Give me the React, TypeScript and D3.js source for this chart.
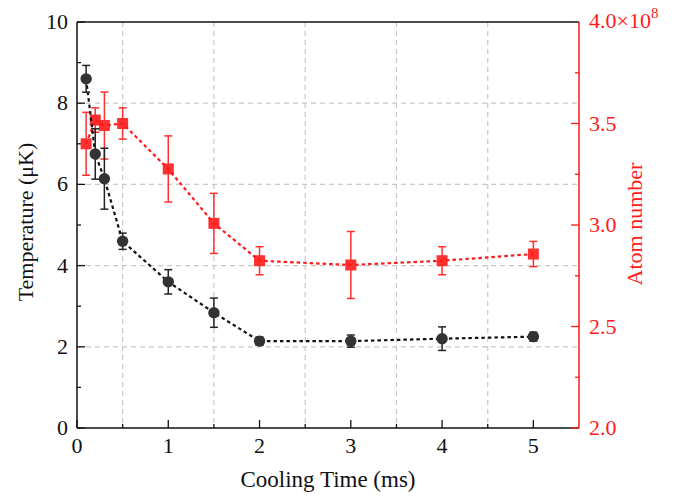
import * as d3 from "d3";

const times = [0.1, 0.2, 0.3, 0.5, 1, 1.5, 2, 3, 4, 5];
const temperature = [8.6, 6.75, 6.14, 4.6, 3.6, 2.84, 2.14, 2.14, 2.2, 2.25];
const temperatureErr = [0.33, 0.62, 0.75, 0.2, 0.3, 0.36, 0.1, 0.15, 0.29, 0.11];
const atomNumber = [3.4, 3.517, 3.49, 3.5, 3.276, 3.008, 2.824, 2.803, 2.824, 2.857];
const atomErr = [0.155, 0.06, 0.165, 0.077, 0.163, 0.148, 0.069, 0.165, 0.069, 0.062];

const xTicks = [0, 1, 2, 3, 4, 5];
const xMinor = [0.5, 1.5, 2.5, 3.5, 4.5];
const leftTicks = [0, 2, 4, 6, 8, 10];
const rightTicks = [2.0, 2.5, 3.0, 3.5];

const W = 679;
const H = 500;
const m = { left: 77, right: 579, top: 22, bottom: 428 };
const font = "'Liberation Serif', 'Times New Roman', serif";
const RED = "#ff1a1a";
const FS = 22;

const App = () => {
  const x = d3.scaleLinear().domain([0, 5.5]).range([m.left, m.right]);
  const yL = d3.scaleLinear().domain([0, 10]).range([m.bottom, m.top]);
  const yR = d3.scaleLinear().domain([2, 4]).range([m.bottom, m.top]);

  const tLine = d3
    .line<number>()
    .x((d, i) => x(times[i]))
    .y((d) => yL(d));
  const aLine = d3
    .line<number>()
    .x((d, i) => x(times[i]))
    .y((d) => yR(d));

  return (
    <svg width={W} height={H} style={{ position: "absolute", left: 0, top: 0, background: "white" }}>
      {/* grid */}
      <g stroke="#c8c8c8" strokeWidth={1.2} strokeDasharray="5,4">
        {xMinor.map((t) => (
          <line key={"gx" + t} x1={x(t)} x2={x(t)} y1={m.top} y2={m.bottom} />
        ))}
        {leftTicks.slice(1, -1).map((t) => (
          <line key={"gy" + t} x1={m.left} x2={m.right} y1={yL(t)} y2={yL(t)} />
        ))}
      </g>

      {/* frame */}
      <line x1={m.left} x2={m.right} y1={m.top} y2={m.top} stroke="#111" strokeWidth={1.5} />
      <line x1={m.left} x2={m.right} y1={m.bottom} y2={m.bottom} stroke="#111" strokeWidth={1.5} />
      <line x1={m.left} x2={m.left} y1={m.top} y2={m.bottom} stroke="#111" strokeWidth={1.5} />
      <line x1={m.right} x2={m.right} y1={m.top} y2={m.bottom} stroke={RED} strokeWidth={1.5} />

      {/* x ticks */}
      {xTicks.map((t) => (
        <g key={"xt" + t}>
          <line x1={x(t)} x2={x(t)} y1={m.bottom} y2={m.bottom - 8} stroke="#111" strokeWidth={1.3} />
          <text x={x(t)} y={m.bottom + 25} textAnchor="middle" fontSize={FS} fontFamily={font} fill="#111">
            {t}
          </text>
        </g>
      ))}
      {xMinor.map((t) => (
        <line key={"xm" + t} x1={x(t)} x2={x(t)} y1={m.bottom} y2={m.bottom - 4} stroke="#111" strokeWidth={1.3} />
      ))}

      {/* left ticks */}
      {leftTicks.map((t) => (
        <g key={"lt" + t}>
          <line x1={m.left} x2={m.left + 8} y1={yL(t)} y2={yL(t)} stroke="#111" strokeWidth={1.3} />
          <text x={m.left - 9} y={yL(t) + 7} textAnchor="end" fontSize={FS} fontFamily={font} fill="#111">
            {t}
          </text>
        </g>
      ))}
      {d3.range(1, 10, 2).map((t) => (
        <line key={"lm" + t} x1={m.left} x2={m.left + 4} y1={yL(t)} y2={yL(t)} stroke="#111" strokeWidth={1.3} />
      ))}

      {/* right ticks */}
      {rightTicks.map((t) => (
        <g key={"rt" + t}>
          <line x1={m.right} x2={m.right - 8} y1={yR(t)} y2={yR(t)} stroke={RED} strokeWidth={1.3} />
          <text x={m.right + 10} y={yR(t) + 7} fontSize={FS} fontFamily={font} fill={RED}>
            {t.toFixed(1)}
          </text>
        </g>
      ))}
      {d3.range(2.25, 4, 0.5).map((t) => (
        <line key={"rm" + t} x1={m.right} x2={m.right - 4} y1={yR(t)} y2={yR(t)} stroke={RED} strokeWidth={1.3} />
      ))}
      <text x={m.right + 10} y={yR(4) + 6} fontSize={FS} fontFamily={font} fill={RED}>
        4.0×10
        <tspan dy={-10} fontSize={15}>8</tspan>
      </text>

      {/* axis titles */}
      <text
        transform={`translate(33,222) rotate(-90)`}
        textAnchor="middle"
        fontSize={FS}
        fontFamily={font}
        fill="#111"
      >
        Temperature (μK)
      </text>
      <text
        transform={`translate(642,224) rotate(-90)`}
        textAnchor="middle"
        fontSize={FS}
        fontFamily={font}
        fill={RED}
      >
        Atom number
      </text>
      <text x={(m.left + m.right) / 2} y={487} textAnchor="middle" fontSize={23} fontFamily={font} fill="#111">
        Cooling Time (ms)
      </text>

      {/* atom number series */}
      <path d={aLine(atomNumber) ?? ""} fill="none" stroke={RED} strokeWidth={2.2} strokeDasharray="3.5,3" />
      {atomNumber.map((v, i) => {
        const cx = x(times[i]);
        const y1 = yR(v + atomErr[i]);
        const y2 = yR(v - atomErr[i]);
        return (
          <g key={"a" + i} stroke={RED} strokeWidth={1.5} opacity={0.9}>
            <line x1={cx} x2={cx} y1={y1} y2={y2} />
            <line x1={cx - 4} x2={cx + 4} y1={y1} y2={y1} />
            <line x1={cx - 4} x2={cx + 4} y1={y2} y2={y2} />
            <rect x={cx - 5.5} y={yR(v) - 5.5} width={11} height={11} fill={RED} stroke="none" />
          </g>
        );
      })}

      {/* temperature series */}
      <path d={tLine(temperature) ?? ""} fill="none" stroke="#111" strokeWidth={2.2} strokeDasharray="3.5,3" />
      {temperature.map((v, i) => {
        const cx = x(times[i]);
        const y1 = yL(v + temperatureErr[i]);
        const y2 = yL(v - temperatureErr[i]);
        return (
          <g key={"t" + i} stroke="#222" strokeWidth={1.5}>
            <line x1={cx} x2={cx} y1={y1} y2={y2} />
            <line x1={cx - 4} x2={cx + 4} y1={y1} y2={y1} />
            <line x1={cx - 4} x2={cx + 4} y1={y2} y2={y2} />
            <circle cx={cx} cy={yL(v)} r={5.7} fill="#333" stroke="none" />
          </g>
        );
      })}
    </svg>
  );
};

export default App;
